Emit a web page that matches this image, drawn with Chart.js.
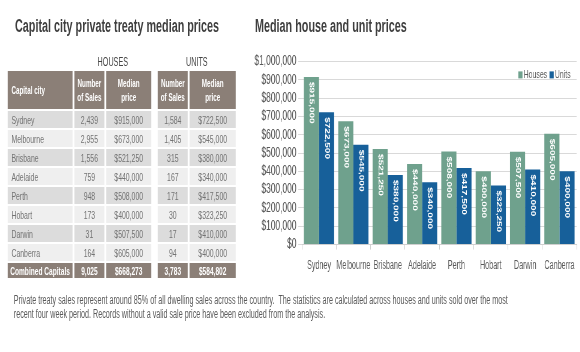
<!DOCTYPE html>
<html>
<head>
<meta charset="utf-8">
<script src="https://cdn.jsdelivr.net/npm/chart.js@4.4.1/dist/chart.umd.min.js"></script>
<style>
  html, body { margin: 0; background: #fff; }
  body { width: 580px; height: 352px; overflow: hidden; position: relative; }
  /* the whole sheet is laid out wider and squeezed horizontally, like the source image */
  #page { position: absolute; left: 0; top: 0; width: 967px; height: 352px;
          transform: scaleX(0.6); transform-origin: 0 0;
          font-family: "Liberation Sans", Arial, sans-serif; }
  .title { position: absolute; top: 16px; font-weight: bold; font-size: 18px; color: #3f3f3f; white-space: nowrap; }
  #t1 { left: 25px; }
  #t2 { left: 425px; }
  table { position: absolute; left: 10px; top: 53px; border-collapse: separate; border-spacing: 3px 2px;
          table-layout: fixed; width: 386px; font-size: 11.5px; }
  td, th { padding: 0; overflow: hidden; white-space: nowrap; }
  tr.grp th { height: 13px; color: #444; font-weight: normal; font-size: 12px; background: none; }
  tr.head th { height: 38px; background: #8b7f77; color: #fff; font-size: 10.5px; line-height: 14px; }
  tr.head th.first { text-align: left; padding-left: 6px; }
  tbody td { height: 17px; color: #737373; text-align: center; }
  tbody td.city { text-align: left; padding-left: 6px; }
  tbody tr:nth-child(odd) td:not(.sp) { background: #dcdcdc; }
  tbody tr:nth-child(even) td:not(.sp) { background: #efefef; }
  tr.total td { height: 15px; background: #8b7f77; color: #fff; font-weight: bold; font-size: 11px; text-align: center; }
  tr.total td.city { text-align: left; padding-left: 4px; }
  .sp { background: none !important; }
  #chartBox { position: absolute; left: 417px; top: 50px; width: 550px; height: 236px; }
  #note { position: absolute; left: 23px; top: 293px; font-size: 12px; color: #5a5a5a; line-height: 14px; white-space: nowrap; }
</style>
</head>
<body>
<div id="page">
<div class="title" id="t1">Capital city private treaty median prices</div>
<div class="title" id="t2">Median house and unit prices</div>

<table id="tbl">
  <colgroup>
    <col style="width:108px"><col style="width:50px"><col style="width:75px">
    <col style="width:5px"><col style="width:50px"><col style="width:77px">
  </colgroup>
  <thead>
    <tr class="grp"><th></th><th colspan="2">HOUSES</th><th class="sp"></th><th colspan="2">UNITS</th></tr>
    <tr class="head"><th class="first">Capital city</th><th>Number<br>of Sales</th><th>Median<br>price</th>
      <th class="sp"></th><th>Number<br>of Sales</th><th>Median<br>price</th></tr>
  </thead>
  <tbody id="tbody"></tbody>
  <tfoot id="tfoot"></tfoot>
</table>

<div id="chartBox"><canvas id="chart"></canvas></div>

<div id="note">Private treaty sales represent around 85% of all dwelling sales across the country.&nbsp; The statistics are calculated across houses and units sold over the most<br>recent four week period. Records without a valid sale price have been excluded from the analysis.</div>
</div>

<script>
// Data
const cities = ['Sydney', 'Melbourne', 'Brisbane', 'Adelaide', 'Perth', 'Hobart', 'Darwin', 'Canberra'];
const houseSales = [2439, 2955, 1556, 759, 948, 173, 31, 164];
const housePrices = [915000, 673000, 521250, 440000, 508000, 400000, 507500, 605000];
const unitSales = [1584, 1405, 315, 167, 171, 30, 17, 94];
const unitPrices = [722500, 545000, 380000, 340000, 417500, 323250, 410000, 400000];
const combined = ['Combined Capitals', 9025, 668273, 3783, 584802];

const num = v => v.toLocaleString('en-US');
const money = v => '$' + v.toLocaleString('en-US');

// Build the table
const tbody = document.getElementById('tbody');
cities.forEach((c, i) => {
    const tr = document.createElement('tr');
    tr.innerHTML = '<td class="city">' + c + '</td><td>' + num(houseSales[i]) + '</td><td>' + money(housePrices[i]) +
        '</td><td class="sp"></td><td>' + num(unitSales[i]) + '</td><td>' + money(unitPrices[i]) + '</td>';
    tbody.appendChild(tr);
});
const tf = document.createElement('tr');
tf.className = 'total';
tf.innerHTML = '<td class="city">' + combined[0] + '</td><td>' + num(combined[1]) + '</td><td>' + money(combined[2]) +
    '</td><td class="sp"></td><td>' + num(combined[3]) + '</td><td>' + money(combined[4]) + '</td>';
document.getElementById('tfoot').appendChild(tf);

// Vertical value labels inside the bars
const barLabels = {
    id: 'barLabels',
    afterDatasetsDraw(chart) {
        const ctx = chart.ctx;
        ctx.save();
        ctx.fillStyle = '#ffffff';
        ctx.font = 'bold 10px "Liberation Sans", Arial, sans-serif';
        ctx.textAlign = 'left';
        ctx.textBaseline = 'middle';
        chart.data.datasets.forEach((ds, di) => {
            chart.getDatasetMeta(di).data.forEach((bar, i) => {
                ctx.save();
                ctx.translate(bar.x, bar.y + 5);
                ctx.rotate(Math.PI / 2);
                ctx.fillText(money(ds.data[i]), 0, 0);
                ctx.restore();
            });
        });
        ctx.restore();
    }
};

// Small legend in the top right of the plot
const cornerLegend = {
    id: 'cornerLegend',
    afterDraw(chart) {
        const ctx = chart.ctx;
        const area = chart.chartArea;
        ctx.save();
        ctx.font = '11.5px "Liberation Sans", Arial, sans-serif';
        ctx.textBaseline = 'middle';
        let x = area.right - 10;
        const y = area.top + 13;
        const items = chart.data.datasets.slice().reverse();
        items.forEach(ds => {
            const w = ctx.measureText(ds.label).width;
            x -= w;
            ctx.fillStyle = '#595959';
            ctx.fillText(ds.label, x, y);
            x -= 9;
            ctx.fillStyle = ds.backgroundColor;
            ctx.fillRect(x, y - 3, 7, 7);
            x -= 4;
        });
        ctx.restore();
    }
};

const ctx = document.getElementById('chart').getContext('2d');
new Chart(ctx, {
    type: 'bar',
    data: {
        labels: cities,
        datasets: [
            { label: 'Houses', data: housePrices, backgroundColor: '#6fa18d', categoryPercentage: 0.88, barPercentage: 1.0 },
            { label: 'Units', data: unitPrices, backgroundColor: '#17609a', categoryPercentage: 0.88, barPercentage: 1.0 }
        ]
    },
    options: {
        responsive: true,
        maintainAspectRatio: false,
        animation: false,
        layout: { padding: { top: 2, right: 6, left: 4, bottom: 4 } },
        plugins: {
            legend: { display: false },
            tooltip: { enabled: false }
        },
        scales: {
            x: {
                grid: { display: true, drawOnChartArea: false, drawTicks: true, tickLength: 5, color: '#cfcfcf', offset: true },
                border: { color: '#cfcfcf' },
                ticks: { color: '#595959', font: { family: '"Liberation Sans", Arial, sans-serif', size: 12 }, padding: 9, maxRotation: 0, autoSkip: false }
            },
            y: {
                min: 0,
                max: 1000000,
                grid: { color: '#d9d9d9', tickLength: 6 },
                border: { display: false },
                ticks: {
                    stepSize: 100000,
                    autoSkip: false,
                    color: '#595959',
                    font: { family: '"Liberation Sans", Arial, sans-serif', size: 14 },
                    padding: 3,
                    callback: v => money(v)
                }
            }
        }
    },
    plugins: [barLabels, cornerLegend]
});
</script>
</body>
</html>
